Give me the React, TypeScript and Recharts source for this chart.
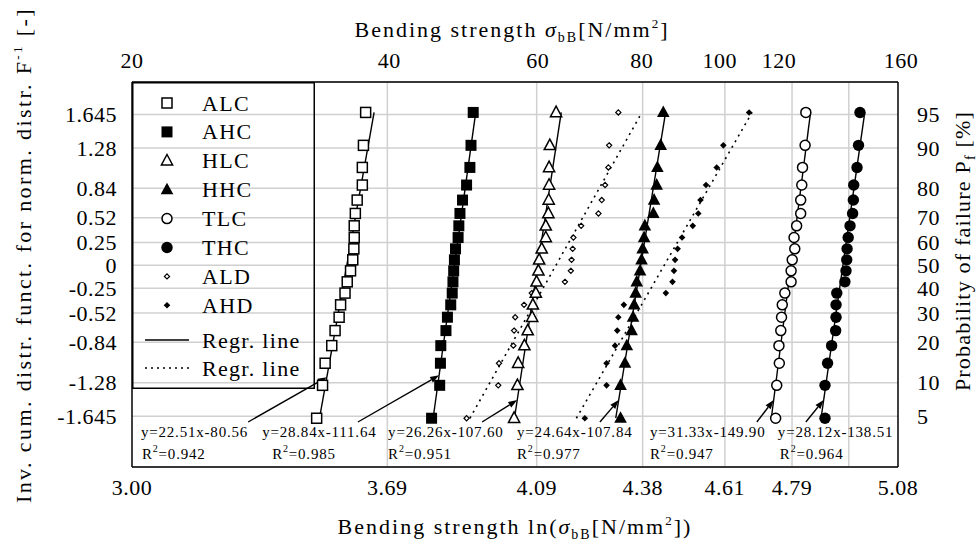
import React from 'react';
import { ComposedChart, Scatter, XAxis, YAxis, CartesianGrid, ReferenceLine, Legend } from 'recharts';

const W = 978;
const H = 545;
const FONT = '"Liberation Serif", "Times New Roman", serif';

// standard normal quantiles of the plotting positions (bottom -> top), n = 20
const zLevels = [-1.668, -1.309, -1.068, -0.876, -0.712, -0.566, -0.431, -0.303, -0.18, -0.06,
  0.06, 0.18, 0.303, 0.431, 0.566, 0.712, 0.876, 1.068, 1.309, 1.668];

// ln(bending strength) of each specimen, sorted (bottom -> top)
const ALC = [3.497, 3.513, 3.52, 3.538, 3.547, 3.558, 3.562, 3.574, 3.58, 3.589, 3.595, 3.598, 3.599, 3.599, 3.602, 3.607, 3.621, 3.621, 3.624, 3.63];
const AHC = [3.809, 3.831, 3.833, 3.834, 3.848, 3.852, 3.861, 3.865, 3.867, 3.869, 3.871, 3.874, 3.881, 3.883, 3.886, 3.893, 3.904, 3.913, 3.916, 3.922];
const HLC = [4.033, 4.042, 4.044, 4.061, 4.07, 4.082, 4.084, 4.092, 4.094, 4.099, 4.101, 4.108, 4.119, 4.119, 4.126, 4.127, 4.128, 4.128, 4.13, 4.147];
const HHC = [4.322, 4.322, 4.334, 4.339, 4.352, 4.356, 4.359, 4.363, 4.366, 4.375, 4.379, 4.382, 4.386, 4.388, 4.411, 4.413, 4.42, 4.422, 4.431, 4.438];
const TLC = [4.743, 4.746, 4.753, 4.752, 4.757, 4.759, 4.761, 4.768, 4.785, 4.785, 4.788, 4.795, 4.793, 4.8, 4.811, 4.811, 4.814, 4.816, 4.823, 4.825];
const THC = [4.877, 4.877, 4.884, 4.895, 4.906, 4.907, 4.907, 4.909, 4.931, 4.934, 4.936, 4.937, 4.94, 4.945, 4.952, 4.954, 4.955, 4.964, 4.968, 4.972];
const ALD = [3.904, 3.99, 3.992, 4.031, 4.033, 4.036, 4.06, 4.081, 4.171, 4.187, 4.189, 4.192, 4.194, 4.215, 4.262, 4.271, 4.28, 4.289, 4.291, 4.316];
const AHD = [4.225, 4.284, 4.284, 4.307, 4.313, 4.316, 4.331, 4.445, 4.463, 4.467, 4.47, 4.477, 4.489, 4.518, 4.533, 4.539, 4.554, 4.583, 4.601, 4.671];

// regression lines y = a*x + b (x = ln sigma) of the six C-series
const regNames = ['ALC', 'AHC', 'HLC', 'HHC', 'TLC', 'THC'];
const regSlope = [22.51, 28.84, 26.26, 24.64, 31.33, 28.12];
const regIntercept = [-80.56, -111.64, -107.6, -107.84, -149.9, -138.51];
const regR2 = [0.942, 0.985, 0.951, 0.977, 0.947, 0.964];

// dotted regression lines of ALD and AHD (ln sigma at the lowest and highest plotting position)
const dottedStart = [3.913, 4.202];
const dottedEnd = [4.38, 4.679];

// axis ticks
const lnTicks = [2.9957, 3.6889, 4.0943, 4.382, 4.6052, 4.7875, 5.0752];
const sigmaLabels = ['20', '40', '60', '80', '100', '120', '160'];
const sigmaLabelShift = [0, 2, 1, -1, -5, -13, 3];
const gridLn = [3.6889, 4.0943, 4.382, 4.6052, 4.7875, 4.9416];
const zTicks = [1.645, 1.28, 0.84, 0.52, 0.25, 0, -0.25, -0.52, -0.84, -1.28, -1.645];
const zLabels = ['1.645', '1.28', '0.84', '0.52', '0.25', '0', '-0.25', '-0.52', '-0.84', '-1.28', '-1.645'];
const pfLabels = ['95', '90', '80', '70', '60', '50', '40', '30', '20', '10', '5'];

// annotation layout (data coordinates)
const annTextX = [3.02, 3.349, 3.691, 4.041, 4.402, 4.749];
const annR2Dx = [1, 10, 0, 0, 0, 2];
const arrowStartX = [3.311, 3.609, 3.946, 4.266, 4.692, 4.825];
const arrowEndZ = [-1.22, -1.2, -1.47, -1.47, -1.47, -1.47];
const annTextZ = -1.878;
const arrowStartZ = -1.709;

const zLo = -1.668;
const zHi = 1.668;

type Kind = 'sqOpen' | 'sqFill' | 'triOpen' | 'triFill' | 'circOpen' | 'circFill' | 'diaOpen' | 'diaFill';

const Marker = ({ kind, cx, cy }: { kind: Kind; cx: number; cy: number }) => {
  switch (kind) {
    case 'sqOpen':
      return <rect x={cx - 5} y={cy - 5} width={10} height={10} fill="#fff" stroke="#000" strokeWidth={1.5} />;
    case 'sqFill':
      return <rect x={cx - 5.5} y={cy - 5.5} width={11} height={11} fill="#000" />;
    case 'triOpen':
      return <polygon points={`${cx},${cy - 6.3} ${cx + 5.6},${cy + 4.2} ${cx - 5.6},${cy + 4.2}`} fill="#fff" stroke="#000" strokeWidth={1.5} />;
    case 'triFill':
      return <polygon points={`${cx},${cy - 7} ${cx + 6.3},${cy + 4.6} ${cx - 6.3},${cy + 4.6}`} fill="#000" />;
    case 'circOpen':
      return <circle cx={cx} cy={cy} r={5} fill="#fff" stroke="#000" strokeWidth={1.5} />;
    case 'circFill':
      return <circle cx={cx} cy={cy} r={5.7} fill="#000" />;
    case 'diaOpen':
      return <polygon points={`${cx},${cy - 2.6} ${cx + 2.6},${cy} ${cx},${cy + 2.6} ${cx - 2.6},${cy}`} fill="#fff" stroke="#000" strokeWidth={1.2} />;
    default:
      return <polygon points={`${cx},${cy - 3.3} ${cx + 3.3},${cy} ${cx},${cy + 3.3} ${cx - 3.3},${cy}`} fill="#000" />;
  }
};

const series: { name: string; values: number[]; kind: Kind }[] = [
  { name: 'ALD', values: ALD, kind: 'diaOpen' },
  { name: 'AHD', values: AHD, kind: 'diaFill' },
  { name: 'ALC', values: ALC, kind: 'sqOpen' },
  { name: 'AHC', values: AHC, kind: 'sqFill' },
  { name: 'HLC', values: HLC, kind: 'triOpen' },
  { name: 'HHC', values: HHC, kind: 'triFill' },
  { name: 'TLC', values: TLC, kind: 'circOpen' },
  { name: 'THC', values: THC, kind: 'circFill' },
];

const legendItems: { name: string; kind: Kind }[] = [
  { name: 'ALC', kind: 'sqOpen' },
  { name: 'AHC', kind: 'sqFill' },
  { name: 'HLC', kind: 'triOpen' },
  { name: 'HHC', kind: 'triFill' },
  { name: 'TLC', kind: 'circOpen' },
  { name: 'THC', kind: 'circFill' },
  { name: 'ALD', kind: 'diaOpen' },
  { name: 'AHD', kind: 'diaFill' },
];

const LegendBox = () => (
  <svg width={183} height={307} style={{ display: 'block' }}>
    <rect x={0.75} y={0.75} width={181.5} height={305.5} fill="none" stroke="#000" strokeWidth={1.5} />
    {legendItems.map((it, i) => {
      const cy = 21 + i * 28.9;
      return (
        <g key={it.name}>
          <Marker kind={it.kind} cx={35} cy={cy} />
          <text x={70} y={cy + 7.5} fontSize={22} letterSpacing={1.3} fontFamily={FONT} fill="#000">{it.name}</text>
        </g>
      );
    })}
    <line x1={13} x2={57} y1={258} y2={258} stroke="#000" strokeWidth={1.5} />
    <text x={70} y={265.5} fontSize={22} letterSpacing={1.3} fontFamily={FONT} fill="#000">Regr. line</text>
    <line x1={13} x2={57} y1={286} y2={286} stroke="#000" strokeWidth={1.5} strokeDasharray="2 4" />
    <text x={70} y={293.5} fontSize={22} letterSpacing={1.3} fontFamily={FONT} fill="#000">Regr. line</text>
  </svg>
);

const ArrowShape = (p: any) => {
  const { x1, y1, x2, y2 } = p;
  const ang = Math.atan2(y2 - y1, x2 - x1);
  const L = 9;
  const Wd = 3.2;
  const bx = x2 - L * Math.cos(ang);
  const by = y2 - L * Math.sin(ang);
  const px = -Math.sin(ang) * Wd;
  const py = Math.cos(ang) * Wd;
  return (
    <g>
      <line x1={x1} y1={y1} x2={bx} y2={by} stroke="#000" strokeWidth={1.4} />
      <polygon points={`${x2},${y2} ${bx + px},${by + py} ${bx - px},${by - py}`} fill="#000" />
    </g>
  );
};

const AnnText = (p: any) => {
  const { cx, cy, payload } = p;
  if (cx == null || cy == null) return <g />;
  return (
    <g>
      <text x={cx} y={cy} fontSize={15} letterSpacing={0.8} fontFamily={FONT} fill="#000">{payload.eq}</text>
      <text x={cx + payload.r2Dx} y={cy + 22} fontSize={15} letterSpacing={0.8} fontFamily={FONT} fill="#000">
        R<tspan dy={-7} fontSize={10}>2</tspan><tspan dy={7}>={payload.r2}</tspan>
      </text>
    </g>
  );
};

const TopTick = (p: any) => {
  const { x, y, payload } = p;
  const i = lnTicks.indexOf(payload.value);
  return (
    <text x={x + (sigmaLabelShift[i] ?? 0)} y={y} textAnchor="middle" fontSize={22} letterSpacing={0.5} fontFamily={FONT} fill="#000">
      {sigmaLabels[i] ?? ''}
    </text>
  );
};

const fmtEq = (a: number, b: number) => `y=${a.toFixed(2)}x${b < 0 ? '-' : '+'}${Math.abs(b).toFixed(2)}`;

export default function App() {
  const annData = regNames.map((n, i) => ({
    x: annTextX[i],
    z: annTextZ,
    eq: fmtEq(regSlope[i], regIntercept[i]),
    r2: regR2[i].toFixed(3),
    r2Dx: annR2Dx[i],
  }));
  const tickStyle = { fontSize: 22, fill: '#000', fontFamily: FONT, letterSpacing: 0.5 };
  const axisLine = { stroke: '#000', strokeWidth: 1.5 };
  const xDomain: [number, number] = [lnTicks[0], lnTicks[lnTicks.length - 1]];
  const yDomain: [number, number] = [-2.2, 2.0];
  return (
    <div style={{ position: 'absolute', left: 0, top: 0, width: W, height: H, background: '#fff', fontFamily: FONT }}>
      <ComposedChart width={W} height={H} margin={{ top: 22, right: 20, bottom: 18, left: 72 }}>
        <CartesianGrid xAxisId="b" yAxisId="l" vertical={false} stroke="#d0d0d0" strokeWidth={1.5} />
        <XAxis xAxisId="b" type="number" dataKey="x" orientation="bottom" domain={xDomain} allowDataOverflow
          ticks={lnTicks} interval={0} tickFormatter={(v: number) => v.toFixed(2)} height={60}
          tick={tickStyle} tickLine={false} tickSize={6} tickMargin={6} axisLine={axisLine} />
        <XAxis xAxisId="t" type="number" dataKey="x" orientation="top" domain={xDomain} allowDataOverflow
          ticks={lnTicks} interval={0} height={60}
          tick={<TopTick />} tickLine={false} tickSize={6} tickMargin={8} axisLine={axisLine} />
        <YAxis yAxisId="l" type="number" dataKey="z" orientation="left" domain={yDomain} allowDataOverflow
          ticks={zTicks} interval={0} tickFormatter={(v: number) => zLabels[zTicks.indexOf(v)] ?? ''} width={60}
          tick={tickStyle} tickLine={false} tickSize={6} tickMargin={9} axisLine={axisLine} />
        <YAxis yAxisId="r" type="number" dataKey="z" orientation="right" domain={yDomain} allowDataOverflow
          ticks={zTicks} interval={0} tickFormatter={(v: number) => pfLabels[zTicks.indexOf(v)] ?? ''} width={60}
          tick={tickStyle} tickLine={false} tickSize={6} tickMargin={13} axisLine={axisLine} />

        {gridLn.map((v) => (
          <ReferenceLine key={`g${v}`} xAxisId="b" yAxisId="l" x={v} stroke="#d0d0d0" strokeWidth={1.5} />
        ))}

        {series.map((s) => (
          <Scatter key={s.name} name={s.name} xAxisId="b" yAxisId="l" isAnimationActive={false}
            data={s.values.map((x, i) => ({ x, z: zLevels[i] }))} dataKey="z"
            shape={(p: any) => <Marker kind={s.kind} cx={p.cx} cy={p.cy} />} />
        ))}

        {regNames.map((n, i) => (
          <ReferenceLine key={`r${n}`} xAxisId="b" yAxisId="l" ifOverflow="visible"
            segment={[
              { x: (zLo - regIntercept[i]) / regSlope[i], y: zLo },
              { x: (zHi - regIntercept[i]) / regSlope[i], y: zHi },
            ]}
            stroke="#000" strokeWidth={1.4} />
        ))}
        {dottedStart.map((x0, i) => (
          <ReferenceLine key={`d${i}`} xAxisId="b" yAxisId="l" ifOverflow="visible"
            segment={[{ x: x0, y: zLo }, { x: dottedEnd[i], y: zHi }]}
            stroke="#000" strokeWidth={1.6} strokeDasharray="2 4.5" />
        ))}
        {regNames.map((n, i) => (
          <ReferenceLine key={`a${n}`} xAxisId="b" yAxisId="l" ifOverflow="visible"
            segment={[
              { x: arrowStartX[i], y: arrowStartZ },
              { x: (arrowEndZ[i] - regIntercept[i]) / regSlope[i], y: arrowEndZ[i] },
            ]}
            shape={ArrowShape} />
        ))}
        <Scatter name="annotations" xAxisId="b" yAxisId="l" isAnimationActive={false} data={annData} dataKey="z"
          legendType="none" shape={(p: any) => <AnnText {...p} />} />

        <Legend layout="vertical" align="center" verticalAlign="middle" content={() => <LegendBox />}
          wrapperStyle={{ left: 132, top: 82, width: 183, height: 307, margin: 0, padding: 0 }} />

        <text x={512} y={37} textAnchor="middle" fontSize={22} letterSpacing={2} fontFamily={FONT} fill="#000">
          Bending strength <tspan fontStyle="italic">σ</tspan><tspan fontSize={14} dy={5}>bB</tspan><tspan dy={-5}>[N/mm</tspan><tspan fontSize={13} dy={-9}>2</tspan><tspan dy={9}>]</tspan>
        </text>
        <text x={515} y={534} textAnchor="middle" fontSize={22} letterSpacing={2} fontFamily={FONT} fill="#000">
          Bending strength ln(<tspan fontStyle="italic">σ</tspan><tspan fontSize={14} dy={5}>bB</tspan><tspan dy={-5}>[N/mm</tspan><tspan fontSize={13} dy={-9}>2</tspan><tspan dy={9}>])</tspan>
        </text>
        <text x={31} y={255} transform="rotate(-90 31 255)" textAnchor="middle" fontSize={22} letterSpacing={2.4} fontFamily={FONT} fill="#000">
          Inv. cum. distr. funct. for norm. distr. F<tspan fontSize={13} dy={-9}>-1</tspan><tspan dy={9}> [-]</tspan>
        </text>
        <text x={970} y={251} transform="rotate(-90 970 251)" textAnchor="middle" fontSize={22} letterSpacing={1.2} fontFamily={FONT} fill="#000">
          Probability of failure P<tspan fontSize={14} dy={5}>f</tspan><tspan dy={-5}> [%]</tspan>
        </text>
      </ComposedChart>
    </div>
  );
}
